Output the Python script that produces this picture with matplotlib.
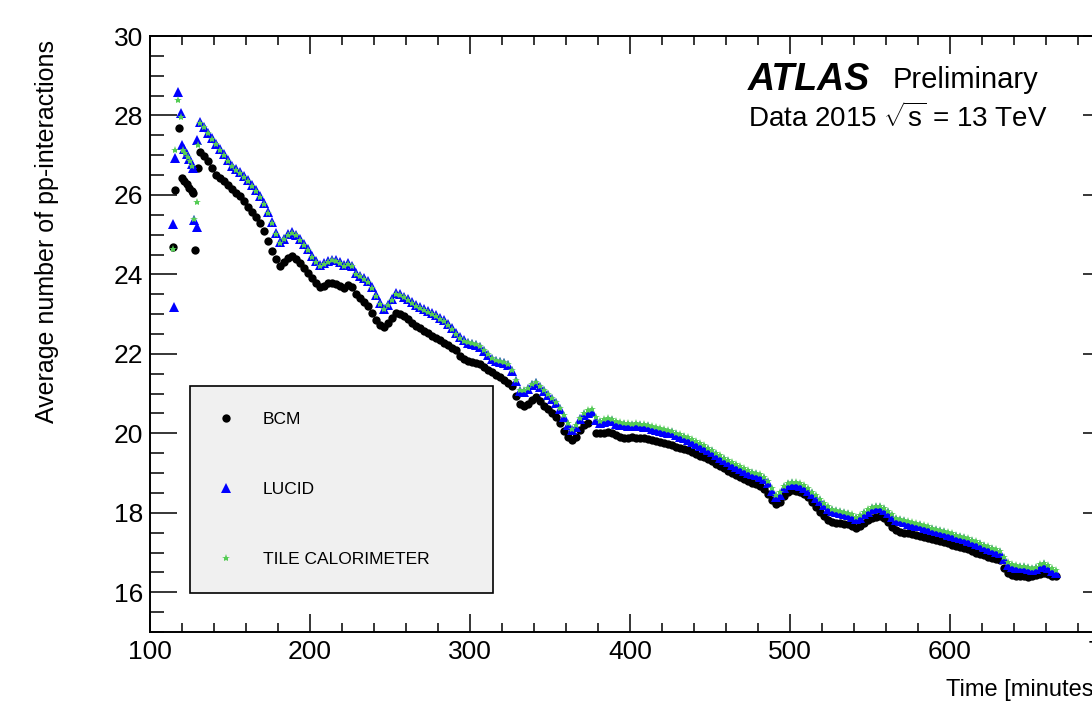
import numpy as np
import matplotlib
matplotlib.use('Agg')
import matplotlib.pyplot as plt
from matplotlib.ticker import MultipleLocator

plt.rcParams['font.family'] = ['Liberation Sans', 'DejaVu Sans']
plt.rcParams['mathtext.fontset'] = 'custom'
plt.rcParams['mathtext.rm'] = 'Liberation Sans'
plt.rcParams['mathtext.it'] = 'Liberation Sans'

# main part of the fill, one reading every 2.5 minutes starting at 131 min
t_start = 131
t_step = 2.5

bcm = [27.08, 26.97, 26.85, 26.68, 26.50, 26.42, 26.35, 26.25, 26.15, 26.06,
       25.98, 25.84, 25.70, 25.58, 25.45, 25.30, 25.10, 24.85, 24.60, 24.38,
       24.22, 24.30, 24.42, 24.46, 24.38, 24.28, 24.15, 24.03, 23.90, 23.78,
       23.68, 23.72, 23.78, 23.78, 23.75, 23.70, 23.66, 23.73, 23.68, 23.50,
       23.40, 23.30, 23.20, 23.02, 22.85, 22.72, 22.68, 22.78, 22.90, 23.02,
       23.00, 22.95, 22.88, 22.78, 22.70, 22.64, 22.58, 22.52, 22.45, 22.40,
       22.34, 22.28, 22.22, 22.16, 22.10, 21.95, 21.86, 21.83, 21.80, 21.77,
       21.74, 21.68, 21.60, 21.54, 21.48, 21.42, 21.34, 21.27, 21.18, 20.95,
       20.75, 20.68, 20.75, 20.85, 20.92, 20.82, 20.70, 20.60, 20.52, 20.40,
       20.25, 20.05, 19.90, 19.83, 19.90, 20.08, 20.22, 20.25, np.nan, 20.00,
       20.00, 20.02, 20.03, 20.00, 19.95, 19.90, 19.88, 19.88, 19.90, 19.89,
       19.88, 19.87, 19.86, 19.83, 19.80, 19.77, 19.75, 19.73, 19.70, 19.66,
       19.63, 19.60, 19.57, 19.52, 19.48, 19.44, 19.40, 19.35, 19.30, 19.24,
       19.18, 19.12, 19.06, 19.00, 18.95, 18.90, 18.85, 18.80, 18.75, 18.72,
       18.68, 18.60, 18.48, 18.33, 18.22, 18.28, 18.42, 18.52, 18.57, 18.56,
       18.53, 18.47, 18.40, 18.27, 18.14, 18.02, 17.92, 17.83, 17.77, 17.75,
       17.74, 17.73, 17.72, 17.68, 17.62, 17.66, 17.75, 17.82, 17.87, 17.90,
       17.92, 17.86, 17.78, 17.65, 17.56, 17.52, 17.50, 17.48, 17.46, 17.44,
       17.42, 17.40, 17.37, 17.35, 17.32, 17.30, 17.27, 17.23, 17.20, 17.17,
       17.14, 17.11, 17.08, 17.04, 17.00, 16.96, 16.93, 16.90, 16.86, 16.83,
       16.80, 16.62, 16.48, 16.44, 16.42, 16.41, 16.40, 16.39, 16.40, 16.43,
       16.46, 16.48, 16.45, 16.42, 16.40]

lucid = [27.84, 27.72, 27.57, 27.43, 27.29, 27.16, 27.02, 26.88, 26.74, 26.65,
         26.57, 26.47, 26.37, 26.25, 26.12, 25.98, 25.80, 25.57, 25.32, 25.04,
         24.82, 24.90, 25.02, 25.07, 25.00, 24.89, 24.77, 24.64, 24.47, 24.34,
         24.24, 24.28, 24.34, 24.37, 24.35, 24.30, 24.24, 24.28, 24.22, 24.04,
         23.97, 23.91, 23.84, 23.68, 23.47, 23.27, 23.14, 23.24, 23.37, 23.52,
         23.50, 23.44, 23.37, 23.30, 23.22, 23.17, 23.12, 23.07, 23.02, 22.97,
         22.91, 22.84, 22.74, 22.64, 22.52, 22.42, 22.35, 22.27, 22.25, 22.23,
         22.17, 22.07, 21.97, 21.87, 21.82, 21.79, 21.77, 21.71, 21.57, 21.32,
         21.07, 21.05, 21.12, 21.21, 21.27, 21.17, 21.07, 20.97, 20.87, 20.77,
         20.62, 20.42, 20.22, 20.09, 20.17, 20.35, 20.47, 20.52, 20.54, 20.34,
         20.26, 20.29, 20.32, 20.30, 20.24, 20.22, 20.21, 20.19, 20.18, 20.19,
         20.18, 20.17, 20.16, 20.12, 20.09, 20.07, 20.04, 20.02, 20.00, 19.96,
         19.92, 19.88, 19.84, 19.79, 19.74, 19.69, 19.64, 19.58, 19.52, 19.45,
         19.39, 19.33, 19.27, 19.21, 19.16, 19.11, 19.06, 19.01, 18.97, 18.94,
         18.91, 18.84, 18.74, 18.56, 18.39, 18.46, 18.62, 18.70, 18.72, 18.71,
         18.68, 18.63, 18.56, 18.47, 18.38, 18.29, 18.19, 18.10, 18.04, 18.01,
         17.99, 17.97, 17.94, 17.90, 17.84, 17.88, 17.96, 18.03, 18.09, 18.11,
         18.12, 18.07, 17.99, 17.90, 17.82, 17.79, 17.76, 17.73, 17.70, 17.68,
         17.66, 17.63, 17.60, 17.57, 17.54, 17.51, 17.49, 17.45, 17.42, 17.39,
         17.36, 17.33, 17.30, 17.26, 17.22, 17.18, 17.14, 17.10, 17.06, 17.02,
         16.98, 16.84, 16.69, 16.64, 16.62, 16.61, 16.60, 16.58, 16.56, 16.58,
         16.64, 16.68, 16.62, 16.54, 16.49]

tile = [27.82, 27.70, 27.55, 27.41, 27.27, 27.14, 27.00, 26.86, 26.72, 26.63,
        26.55, 26.45, 26.35, 26.23, 26.10, 25.96, 25.78, 25.55, 25.30, 25.02,
        24.80, 24.88, 25.00, 25.05, 24.98, 24.87, 24.75, 24.62, 24.45, 24.32,
        24.22, 24.26, 24.32, 24.35, 24.33, 24.28, 24.22, 24.26, 24.20, 24.02,
        23.95, 23.89, 23.82, 23.66, 23.45, 23.25, 23.12, 23.22, 23.35, 23.50,
        23.48, 23.42, 23.35, 23.28, 23.20, 23.15, 23.10, 23.05, 23.00, 22.95,
        22.89, 22.82, 22.72, 22.62, 22.50, 22.40, 22.33, 22.30, 22.28, 22.26,
        22.20, 22.10, 22.00, 21.90, 21.85, 21.82, 21.80, 21.74, 21.60, 21.35,
        21.10, 21.08, 21.15, 21.24, 21.30, 21.20, 21.10, 21.00, 20.90, 20.80,
        20.65, 20.45, 20.25, 20.12, 20.20, 20.38, 20.50, 20.58, 20.60, 20.40,
        20.32, 20.35, 20.38, 20.36, 20.30, 20.28, 20.27, 20.25, 20.24, 20.25,
        20.24, 20.23, 20.22, 20.18, 20.15, 20.13, 20.10, 20.08, 20.06, 20.02,
        19.98, 19.94, 19.90, 19.85, 19.80, 19.75, 19.70, 19.64, 19.58, 19.51,
        19.45, 19.39, 19.33, 19.27, 19.22, 19.17, 19.12, 19.07, 19.03, 19.00,
        18.97, 18.90, 18.80, 18.62, 18.45, 18.52, 18.68, 18.76, 18.78, 18.77,
        18.74, 18.69, 18.62, 18.53, 18.44, 18.35, 18.25, 18.16, 18.10, 18.07,
        18.05, 18.03, 18.00, 17.96, 17.90, 17.94, 18.02, 18.09, 18.15, 18.17,
        18.18, 18.13, 18.05, 17.96, 17.88, 17.85, 17.82, 17.79, 17.76, 17.74,
        17.72, 17.69, 17.66, 17.63, 17.60, 17.57, 17.55, 17.51, 17.48, 17.45,
        17.42, 17.39, 17.36, 17.32, 17.28, 17.24, 17.20, 17.16, 17.12, 17.08,
        17.04, 16.90, 16.75, 16.70, 16.68, 16.67, 16.66, 16.64, 16.62, 16.64,
        16.70, 16.74, 16.68, 16.60, 16.55]

# scattered points at the very start of the fill
bcm_early_t = [114.6, 115.6, 118.3, 120.2, 121.5, 123.0, 124.5, 126.0, 127.0, 128.0, 130.2]
bcm_early = [24.69, 26.12, 27.68, 26.42, 26.35, 26.28, 26.18, 26.10, 26.04, 24.61, 26.67]
lucid_early_t = [114.4, 115.0, 115.6, 117.7, 119.2, 120.2, 121.5, 123.0, 124.5, 126.0, 127.0, 127.2, 129.2, 129.6]
lucid_early = [25.28, 23.18, 26.92, 28.60, 28.05, 27.25, 27.15, 27.02, 26.90, 26.78, 26.67, 25.37, 25.20, 27.38]
tile_early_t = [114.6, 115.6, 117.7, 119.2, 120.8, 122.0, 123.5, 125.0, 126.5, 127.7, 129.2, 130.2]
tile_early = [24.65, 27.13, 28.39, 27.97, 27.13, 27.05, 26.95, 26.85, 26.72, 25.40, 25.83, 27.25]


def times(series):
    return t_start + t_step * np.arange(len(series))


fig = plt.figure(figsize=(10.92, 7.03), dpi=100)
# ROOT canvas is cut on the right: axis runs 100..700 past the picture edge
ax = fig.add_axes([150 / 1092, 71 / 703, 960 / 1092, 596 / 703])

ax.plot(np.concatenate([bcm_early_t, times(bcm)]), np.concatenate([bcm_early, bcm]),
        'o', color='black', ms=6, mew=0, label='BCM')
ax.plot(np.concatenate([lucid_early_t, times(lucid)]), np.concatenate([lucid_early, lucid]),
        '^', color='#0000ff', ms=6.5, mew=0, label='LUCID')
ax.plot(np.concatenate([tile_early_t, times(tile)]), np.concatenate([tile_early, tile]),
        '*', color='#55cc55', ms=6, mew=0, label='TILE CALORIMETER')

ax.set_xlim(100, 700)
ax.set_ylim(15, 30)
ax.xaxis.set_major_locator(MultipleLocator(100))
ax.xaxis.set_minor_locator(MultipleLocator(20))
ax.yaxis.set_major_locator(MultipleLocator(2))
ax.yaxis.set_minor_locator(MultipleLocator(0.5))

ax.tick_params(which='both', direction='in', top=True, right=True, width=1.1, labelsize=19)
ax.xaxis.set_tick_params(which='major', length=13, pad=6)
ax.xaxis.set_tick_params(which='minor', length=6.5)
ax.yaxis.set_tick_params(which='major', length=19.5, pad=5)
ax.yaxis.set_tick_params(which='minor', length=10)
for s in ax.spines.values():
    s.set_linewidth(1.4)

fig.text(47 / 1092, 1 - 40 / 703, 'Average number of pp-interactions', rotation=90,
         ha='center', va='top', fontsize=18)
fig.text(946 / 1092, 1 - 690 / 703, 'Time [minutes]', ha='left', va='center', fontsize=17)

fig.text(748 / 1092, 1 - 80 / 703, 'ATLAS', fontsize=27, fontweight='bold', fontstyle='italic',
         ha='left', va='center')
fig.text(893 / 1092, 1 - 80 / 703, 'Preliminary', fontsize=21, ha='left', va='center')
fig.text(748 / 1092, 1 - 118 / 703, r'Data 2015 $\sqrt{\mathrm{s}}$ = 13 TeV', fontsize=20,
         ha='left', va='center')

leg = ax.legend(loc='lower left', bbox_to_anchor=(0.0417, 0.0654, 0.3156, 0.353), mode='expand',
                fontsize=12.5, labelspacing=3.15, borderpad=1.5, borderaxespad=0,
                handlelength=1.1, handletextpad=1.6, fancybox=False, framealpha=1)
leg.get_frame().set_facecolor('#f0f0f0')
leg.get_frame().set_edgecolor('black')
leg.get_frame().set_linewidth(1.2)

fig.savefig('out.png', dpi=100)
